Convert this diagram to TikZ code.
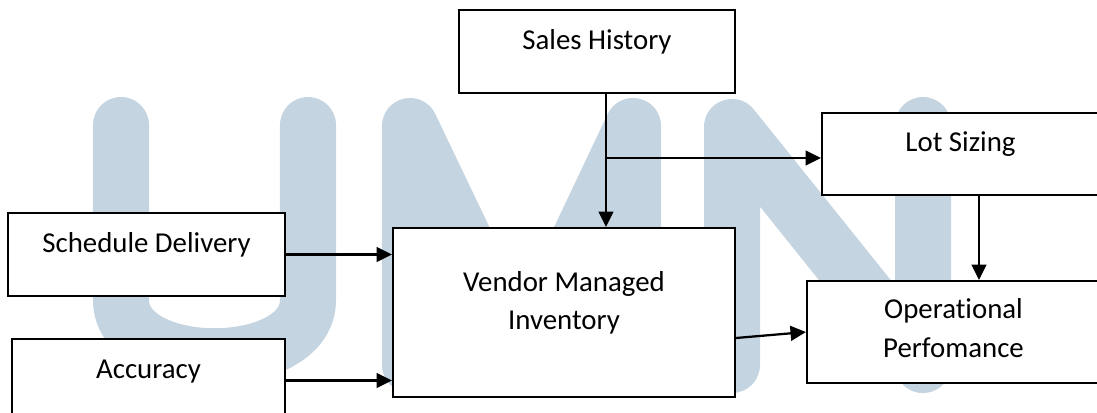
\documentclass[tikz,border=0pt]{standalone}
\usepackage{fontspec}
\setmainfont{Carlito}[Ligatures=CommonOff]
\usetikzlibrary{arrows.meta, positioning}
\definecolor{cwater}{HTML}{C4D4E1}
\tikzset{
  every picture/.style={line width=1.4pt},
  box/.style={draw=black, fill=white, align=center, inner sep=0pt, font=\fontsize{20.5}{27.7}\selectfont},
  single/.style={text height=0.5cm, text depth=0.6cm},
  arrow/.style={-{Triangle[length=11pt, width=10.5pt]}, draw=black, line width=1.6pt},
  wmark/.style={draw=cwater, line width=1.4cm, line cap=round, line join=round},
}

\begin{document}
\begin{tikzpicture}[x=0.025cm, y=-0.025cm]
  \useasboundingbox (0,0) rectangle (1097,413);
  % watermark letters
  \draw[wmark] (121,125) -- (121,300) .. controls (121,375) and (308,375) .. (308,300) -- (308,125);
  \draw[wmark] (410,365) -- (410,126) -- (522,360) -- (633,126) -- (633,365);
  \draw[wmark] (732,365) -- (732,127) -- (923,365) -- (923,125);
  % boxes
  \node[box, single, minimum width=6.9cm, minimum height=2.075cm] (sales) at (597,51.5) {Sales History};
  \node[box, single, minimum width=6.925cm, minimum height=2.05cm] (lot) at (960.5,154) {Lot Sizing};
  \node[box, single, minimum width=6.925cm, minimum height=2.075cm] (sched) at (146.5,254.5) {Schedule Delivery};
  \node[box, single, minimum width=6.825cm, minimum height=2.075cm] (acc) at (148.5,380.5) {Accuracy};
  \node[box, minimum width=8.55cm, minimum height=4.225cm, text depth=0.6cm] (vmi) at (564,312.5) {Vendor Managed\\Inventory};
  \node[box, minimum width=7.325cm, minimum height=2.55cm, text depth=0.2cm] (oper) at (953.5,332) {Operational\\Perfomance};
  % connectors
  \coordinate (split) at (606,158);
  \coordinate (drop) at (979,240);
  \draw[arrow] (sales.south -| split) -- (vmi.north -| split);
  \draw[arrow] (split) -- (split -| lot.west);
  \draw[arrow] (lot.south -| drop) -- (oper.north -| drop);
  \draw[arrow] (sched.east) -- (sched.east -| vmi.west);
  \draw[arrow] (acc.east) -- (acc.east -| vmi.west);
  \draw[arrow] (vmi.east) ++(0,25.5) -- (oper.west);
\end{tikzpicture}
\end{document}
